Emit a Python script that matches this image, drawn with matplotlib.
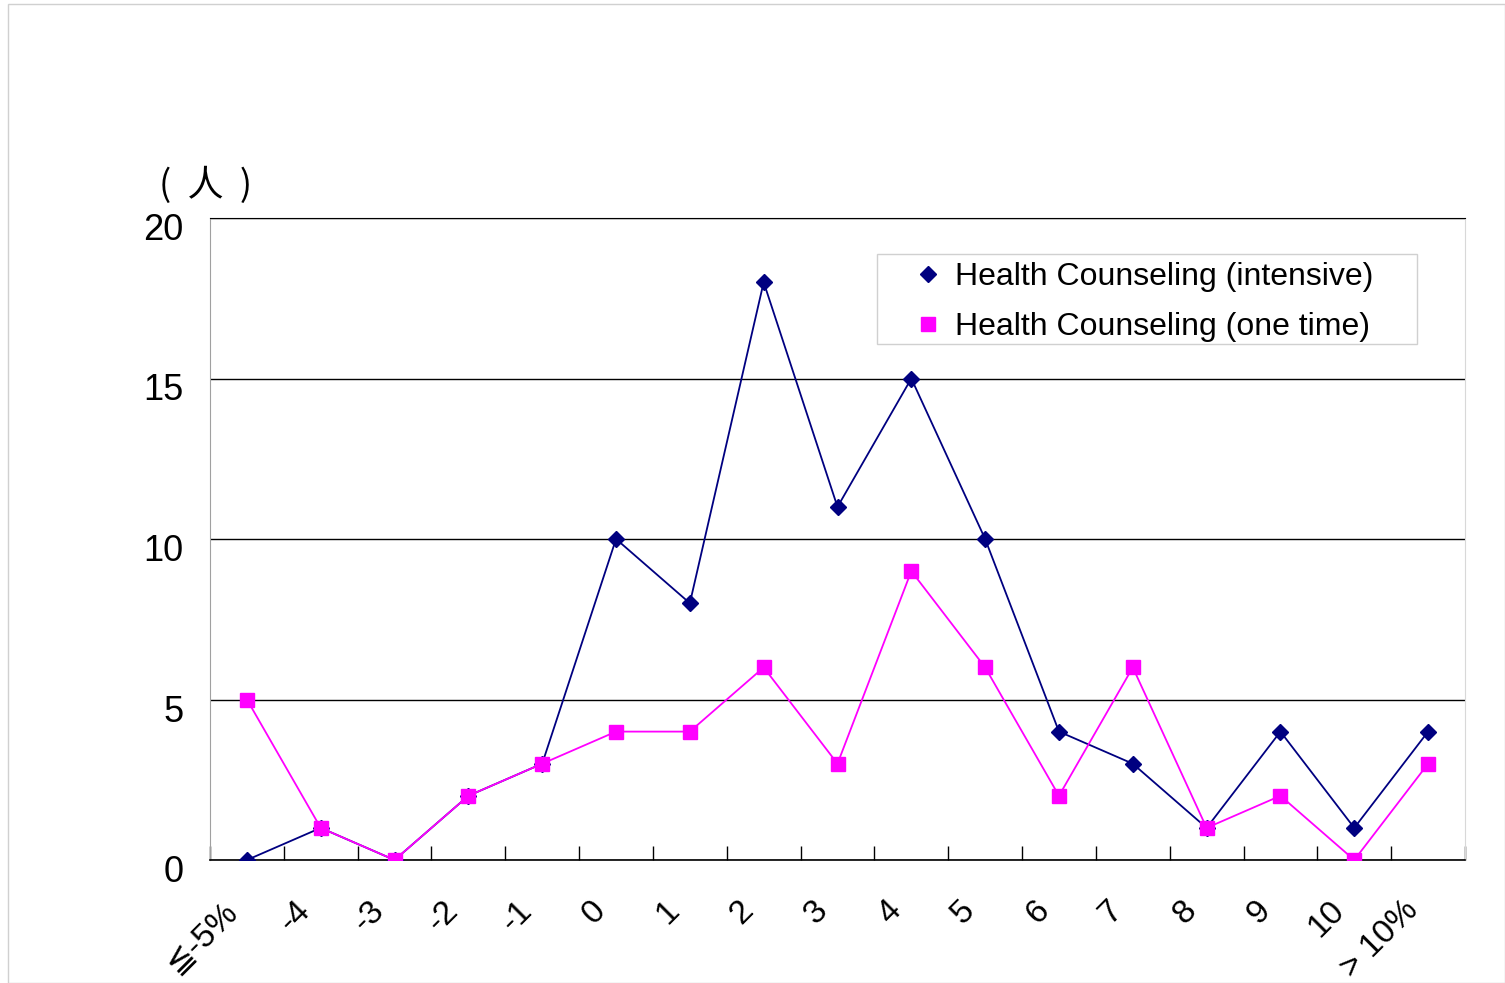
import matplotlib
matplotlib.use("Agg")
import matplotlib.pyplot as plt
from matplotlib.patches import Rectangle
from matplotlib.transforms import ScaledTranslation
import numpy as np

categories = ["≦-5%", "-4", "-3", "-2", "-1", "0", "1", "2", "3", "4", "5", "6", "7", "8", "9", "10", "> 10%"]
intensive = [0, 1, 0, 2, 3, 10, 8, 18, 11, 15, 10, 4, 3, 1, 4, 1, 4]
one_time = [5, 1, 0, 2, 3, 4, 4, 6, 3, 9, 6, 2, 6, 1, 2, 0, 3]
yticks = [0, 5, 10, 15, 20]

plt.rcParams['font.family'] = ['Liberation Sans', 'DejaVu Sans']

W, H = 1505, 983
fig = plt.figure(figsize=(W / 100, H / 100), dpi=100)
fig.patches.append(Rectangle((8 / W, 0), 1 - 8 / W, 1 - 4 / H, transform=fig.transFigure,
                             fill=False, edgecolor='#d0d0d0', linewidth=1))
ax = fig.add_axes([210 / W, 1 - 860 / H, (1465 - 210) / W, (860 - 218) / H])

x = np.arange(len(categories))
ax.plot(x, intensive, color='#000080', linewidth=1.3, marker='D', markersize=8,
        markerfacecolor='#000080', markeredgecolor='#000080', label='Health Counseling (intensive)', zorder=3)
ax.plot(x, one_time, color='#FF00FF', linewidth=1.3, marker='s', markersize=10.5,
        markerfacecolor='#FF00FF', markeredgecolor='#FF00FF', label='Health Counseling (one time)', zorder=3)

ax.set_xlim(-0.5, len(categories) - 0.5)
ax.set_ylim(0, 20)
ax.set_yticks(yticks)
ax.set_yticklabels([str(v) for v in yticks], fontsize=26)
ax.tick_params(axis='y', length=0, pad=19)
ax.yaxis.grid(True, color='black', linewidth=1)
ax.set_axisbelow(True)
for lab in ax.get_yticklabels():
    lab.set_transform(lab.get_transform() + ScaledTranslation(0, -8.5 / 100, fig.dpi_scale_trans))

ax.set_xticks(x)
ax.set_xticklabels(categories, fontsize=24, rotation=45, ha='right', va='center', rotation_mode='anchor')
ax.tick_params(axis='x', which='major', length=0, pad=33)
for lab in ax.get_xticklabels():
    lab.set_transform(lab.get_transform() + ScaledTranslation(-15 / 100, 0, fig.dpi_scale_trans))
ax.set_xticks(np.arange(-0.5, len(categories) + 0.5, 1), minor=True)
ax.tick_params(axis='x', which='minor', length=10, direction='in', color='black', width=1)

ax.spines['left'].set_color('#a0a0a0')
ax.spines['right'].set_color('#d8d8d8')
ax.spines['top'].set_color('black')
ax.spines['bottom'].set_color('black')
ax.spines['bottom'].set_linewidth(1.2)

fig.text(206 / W, 1 - 185 / H, '(  人  )', fontsize=26, ha='center', va='center',
         family=['Noto Sans CJK SC', 'DejaVu Sans'])

# legend frame
frame = Rectangle((877 / W, 1 - 344 / H), (1417 - 877) / W, (344 - 254) / H,
                  transform=fig.transFigure, fill=True, facecolor='white',
                  edgecolor='#d0d0d0', linewidth=1, zorder=4, clip_on=False)
ax.add_patch(frame)
leg = ax.legend(loc='upper left', bbox_to_anchor=(912 / W, 1 - 262 / H),
                bbox_transform=fig.transFigure, fontsize=23,
                frameon=False, handlelength=1.0, handletextpad=0.34,
                borderpad=0, labelspacing=0.62, borderaxespad=0)
leg.set_zorder(5)
for line in leg.get_lines():
    line.set_linestyle('none')

fig.savefig('out.png', dpi=100)
